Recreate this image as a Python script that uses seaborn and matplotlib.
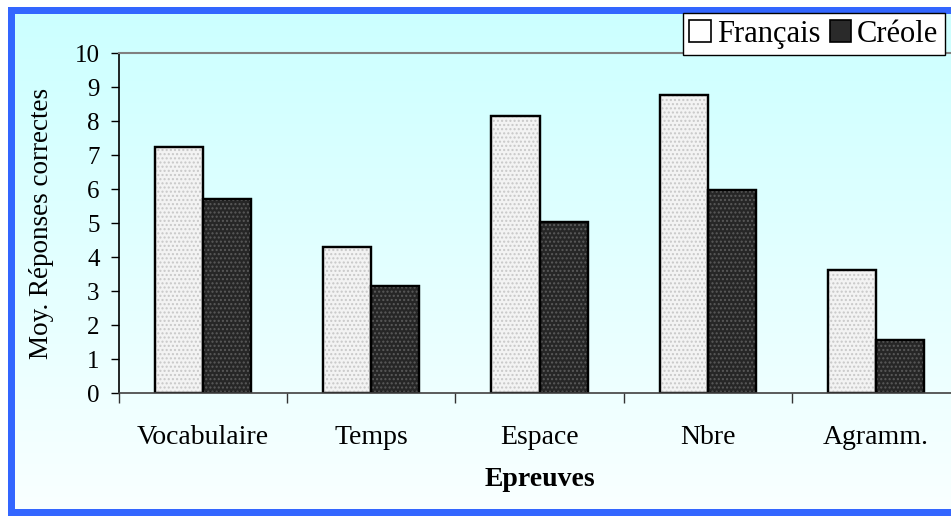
import numpy as np
import pandas as pd
import matplotlib
matplotlib.use('Agg')
import matplotlib.pyplot as plt
import seaborn as sns
from matplotlib.patches import Rectangle, Patch

# Data
epreuves = ['Vocabulaire', 'Temps', 'Espace', 'Nbre', 'Agramm.']
francais = [7.23, 4.28, 8.16, 8.77, 3.62]
creole = [5.70, 3.15, 5.03, 5.96, 1.57]
langues = ['Français', 'Créole']
y_ticks = list(range(0, 11))

df = pd.DataFrame({
    'epreuve': epreuves * 2,
    'score': francais + creole,
    'langue': [langues[0]] * len(epreuves) + [langues[1]] * len(epreuves),
})

plt.rcParams['font.family'] = ['Liberation Serif', 'DejaVu Serif']

W, H = 951, 516
fig = plt.figure(figsize=(W / 100, H / 100), dpi=100)

# background: cyan gradient inside a blue frame
bg = fig.add_axes([0, 0, 1, 1], zorder=-10)
bg.axis('off')
grad = np.linspace(0, 1, 256).reshape(-1, 1)
top_c = np.array([204, 255, 255]) / 255
bot_c = np.array([249, 255, 255]) / 255
img = top_c[None, None, :] * (1 - grad[:, :, None]) + bot_c[None, None, :] * grad[:, :, None]
bg.imshow(img, extent=[15, W + 5, 509, 14], aspect='auto')
bg.set_xlim(0, W)
bg.set_ylim(H, 0)

# frame (left, top and bottom edges; the right edge is cut off)
frame_col = '#3366FF'
for (x, y, w, h) in [(8, 7, W, 7), (8, 7, 7, H), (8, 509, W, 7)]:
    fig.patches.append(Rectangle((x / W, 1 - (y + h) / H), w / W, h / H,
                                 transform=fig.transFigure, facecolor=frame_col,
                                 edgecolor='none', zorder=-5))

# main axes
x0, x1, y0, y1 = 119, 960, 393, 53
ax = fig.add_axes([x0 / W, 1 - y0 / H, (x1 - x0) / W, (y0 - y1) / H])
ax.patch.set_alpha(0)

colors = ['#F3F3F3', '#262626']
sns.barplot(data=df, x='epreuve', y='score', hue='langue', palette=colors,
            width=0.571, gap=0, edgecolor='black', linewidth=1.6,
            saturation=1, ax=ax, legend=False)

# stipple texture on the bars
hatch_cols = {colors[0].lower(): '#C8C8C8', colors[1].lower(): '#5A5A5A'}
for p in list(ax.patches):
    fc = matplotlib.colors.to_hex(p.get_facecolor()).lower()
    hc = hatch_cols.get(fc, '#888888')
    xy, w, h = p.get_xy(), p.get_width(), p.get_height()
    ax.add_patch(Rectangle(xy, w, h, facecolor='none', edgecolor=hc,
                           hatch='....', linewidth=0, zorder=p.get_zorder() + 0.1))
    ax.add_patch(Rectangle(xy, w, h, facecolor='none', edgecolor='black',
                           linewidth=1.6, zorder=p.get_zorder() + 0.2))

ax.set_xlim(-0.5, 4.5)
ax.set_ylim(0, 10)
ax.set_yticks(y_ticks)
ax.set_yticklabels([str(t) for t in y_ticks], fontsize=18)
ax.tick_params(axis='y', direction='out', length=6, width=1, pad=8, colors='black')
ax.set_xticks(range(len(epreuves)))
ax.set_xticklabels(epreuves, fontsize=20)
ax.tick_params(axis='x', which='major', length=0, pad=23)
ax.set_xticks(np.arange(-0.5, 5, 1), minor=True)
ax.tick_params(axis='x', which='minor', direction='out', length=7, width=1, color='#333333')

ax.spines['left'].set_color('black')
ax.spines['left'].set_linewidth(1.2)
ax.spines['bottom'].set_color('#404040')
ax.spines['bottom'].set_linewidth(1.2)
ax.spines['top'].set_color('#808080')
ax.spines['top'].set_linewidth(1.5)
ax.spines['right'].set_visible(False)

ax.set_ylabel('Moy. Réponses correctes', fontsize=19.5, labelpad=15)
ax.set_xlabel('Epreuves', fontsize=20, fontweight='bold', labelpad=12)

handles = [Patch(facecolor=c, edgecolor='black', linewidth=1.2) for c in ['white', '#2A2A2A']]
fig.legend(handles, langues, loc='upper right', bbox_to_anchor=(945 / W, 1 - 13 / H),
           ncol=2, frameon=True, fancybox=False, edgecolor='black', framealpha=1,
           fontsize=22, handlelength=0.7, handleheight=0.7, handletextpad=0.2,
           columnspacing=0.3, borderpad=0.22, borderaxespad=0)

fig.savefig('out.png', dpi=100)
